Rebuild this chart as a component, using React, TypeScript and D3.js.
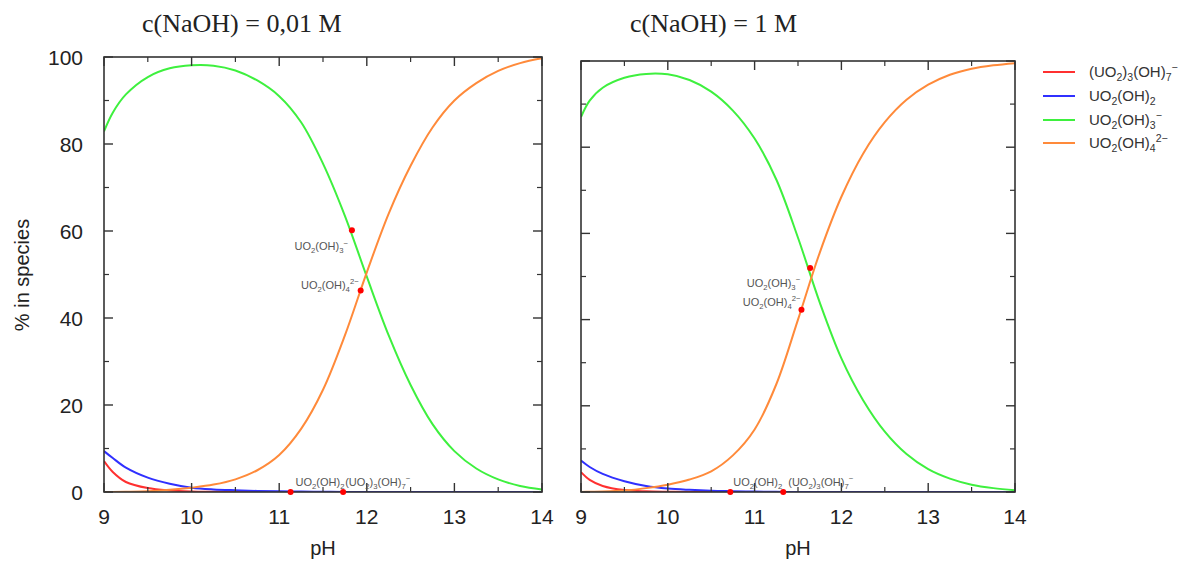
import React from "react";
import * as d3 from "d3";

// ---------- data ----------
const PH = [9, 9.1, 9.25, 9.5, 9.75, 10, 10.25, 10.5, 10.75, 11, 11.25, 11.5, 11.75, 12, 12.25, 12.5, 12.75, 13, 13.25, 13.5, 13.75, 14];

// c(NaOH) = 0,01 M
const left_U3OH7 = [7.1, 4.6, 2.3, 0.9, 0.35, 0.12, 0.05, 0, 0, 0, 0, 0, 0, 0, 0, 0, 0, 0, 0, 0, 0, 0];
const left_UOH2 = [9.4, 7.8, 5.6, 3.3, 1.9, 1.0, 0.6, 0.4, 0.25, 0.15, 0.1, 0.05, 0, 0, 0, 0, 0, 0, 0, 0, 0, 0];
const left_UOH3 = [82.9, 87.2, 91.4, 95.4, 97.4, 98.1, 98.0, 96.9, 94.6, 91.0, 85.0, 75.5, 63.5, 49.5, 36.0, 24.6, 15.6, 9.4, 5.4, 2.9, 1.4, 0.6];
const left_UOH4 = [0, 0.02, 0.05, 0.15, 0.5, 1.0, 1.7, 2.9, 5.0, 8.5, 14.5, 23.5, 36.0, 50.5, 64.0, 75.0, 83.8, 90.0, 94.0, 96.8, 98.6, 99.7];

// c(NaOH) = 1 M
const right_U3OH7 = [4.6, 2.8, 1.4, 0.45, 0.15, 0.05, 0, 0, 0, 0, 0, 0, 0, 0, 0, 0, 0, 0, 0, 0, 0, 0];
const right_UOH2 = [7.3, 5.8, 4.2, 2.5, 1.4, 0.8, 0.5, 0.3, 0.2, 0.1, 0.05, 0, 0, 0, 0, 0, 0, 0, 0, 0, 0, 0];
const right_UOH3 = [87.0, 90.8, 93.8, 96.1, 97.0, 96.9, 95.6, 92.9, 88.5, 82.0, 72.5, 59.0, 44.0, 31.0, 21.3, 14.0, 8.8, 5.3, 3.1, 1.7, 0.9, 0.4];
const right_UOH4 = [0, 0.05, 0.1, 0.35, 0.9, 1.7, 2.9, 4.8, 8.5, 14.5, 25.0, 40.0, 55.5, 68.5, 78.5, 85.8, 91.0, 94.5, 96.8, 98.2, 99.0, 99.5];

// marked points [pH, %]
const left_marks_UOH3 = [11.83, 60.2];
const left_marks_UOH4 = [11.93, 46.3];
const left_marks_UOH2 = [11.13, 0];
const left_marks_U3OH7 = [11.73, 0];
const right_marks_UOH3 = [11.64, 52.0];
const right_marks_UOH4 = [11.54, 42.3];
const right_marks_UOH2 = [10.72, 0];
const right_marks_U3OH7 = [11.33, 0];

const titles = ["c(NaOH) = 0,01 M", "c(NaOH) = 1 M"];
const xTicks = [9, 10, 11, 12, 13, 14];
const xMinor = [9.5, 10.5, 11.5, 12.5, 13.5];
const yTicks = [0, 20, 40, 60, 80, 100];
const yMinor = [10, 30, 50, 70, 90];

type Part = [string, "n" | "sub" | "sup"];
const F_U3OH7: Part[] = [["(UO", "n"], ["2", "sub"], [")", "n"], ["3", "sub"], ["(OH)", "n"], ["7", "sub"], ["\u2212", "sup"]];
const F_UOH2: Part[] = [["UO", "n"], ["2", "sub"], ["(OH)", "n"], ["2", "sub"]];
const F_UOH3: Part[] = [["UO", "n"], ["2", "sub"], ["(OH)", "n"], ["3", "sub"], ["\u2212", "sup"]];
const F_UOH4: Part[] = [["UO", "n"], ["2", "sub"], ["(OH)", "n"], ["4", "sub"], ["2\u2212", "sup"]];

const COLORS = { u3: "#ff3030", u2: "#3030ff", u3m: "#3ef03e", u4: "#ff8a3a" };

const species = [
  { key: "u3", formula: F_U3OH7, color: COLORS.u3 },
  { key: "u2", formula: F_UOH2, color: COLORS.u2 },
  { key: "u3m", formula: F_UOH3, color: COLORS.u3m },
  { key: "u4", formula: F_UOH4, color: COLORS.u4 },
];

const panels = [
  {
    title: titles[0],
    titleX: 142,
    box: { x0: 104, x1: 542, y0: 57, y1: 492 },
    series: { u3: left_U3OH7, u2: left_UOH2, u3m: left_UOH3, u4: left_UOH4 },
    midLabels: [
      { pt: left_marks_UOH3, f: F_UOH3, dx: -4, dy: 20 },
      { pt: left_marks_UOH4, f: F_UOH4, dx: -2, dy: -2 },
    ],
    lowLabels: [
      { pt: left_marks_UOH2, f: F_UOH2, dx: 5 },
      { pt: left_marks_U3OH7, f: F_U3OH7, dx: 2 },
    ],
    showY: true,
  },
  {
    title: titles[1],
    titleX: 630,
    box: { x0: 581, x1: 1015, y0: 61, y1: 492 },
    series: { u3: right_U3OH7, u2: right_UOH2, u3m: right_UOH3, u4: right_UOH4 },
    midLabels: [
      { pt: right_marks_UOH3, f: F_UOH3, dx: -10, dy: 19 },
      { pt: right_marks_UOH4, f: F_UOH4, dx: -1, dy: -4 },
    ],
    lowLabels: [
      { pt: right_marks_UOH2, f: F_UOH2, dx: 3 },
      { pt: right_marks_U3OH7, f: F_U3OH7, dx: 5 },
    ],
    showY: false,
  },
];

function Formula({ parts, x, y, fs, anchor = "start", fill = "#333" }: any) {
  let cur = 0;
  return (
    <text x={x} y={y} fontSize={fs} textAnchor={anchor} fill={fill} fontFamily="'Liberation Sans', Arial, sans-serif">
      {parts.map((p: Part, i: number) => {
        const target = p[1] === "sub" ? 0.28 * fs : p[1] === "sup" ? -0.42 * fs : 0;
        const dy = target - cur;
        cur = target;
        return (
          <tspan key={i} dy={dy} fontSize={p[1] === "n" ? fs : fs * 0.7}>
            {p[0]}
          </tspan>
        );
      })}
    </text>
  );
}

const AXIS = "#333";
const SANS = "'Liberation Sans', Arial, sans-serif";

function Panel({ p }: any) {
  const { x0, x1, y0, y1 } = p.box;
  const x = d3.scaleLinear().domain([9, 14]).range([x0, x1]);
  const y = d3.scaleLinear().domain([0, 100]).range([y1, y0]);
  const line = d3
    .line<[number, number]>()
    .x((d) => x(d[0]))
    .y((d) => y(d[1]))
    .curve(d3.curveCatmullRom.alpha(0.5));
  const maj = 9;
  const min = 5;
  const cx = (x0 + x1) / 2;
  return (
    <g>
      <text x={p.titleX} y={32} fontSize={26} textAnchor="start" fontFamily="'Liberation Serif', 'Times New Roman', serif" fill="#222">
        {p.title}
      </text>
      <defs>
        <clipPath id={"clip" + x0}>
          <rect x={x0} y={y0 - 2} width={x1 - x0} height={y1 - y0 + 2} />
        </clipPath>
      </defs>
      {/* curves */}
      <g clipPath={`url(#clip${x0})`}>
        {species.map((s) => (
          <path
            key={s.key}
            d={line(PH.map((h, i) => [h, p.series[s.key][i]]) as [number, number][]) || ""}
            fill="none"
            stroke={s.color}
            strokeWidth={2}
          />
        ))}
      </g>
      {/* frame */}
      <rect x={x0} y={y0} width={x1 - x0} height={y1 - y0} fill="none" stroke={AXIS} strokeWidth={1.6} />
      {/* ticks */}
      {xTicks.map((t) => (
        <g key={"xt" + t}>
          <line x1={x(t)} x2={x(t)} y1={y1} y2={y1 - maj} stroke={AXIS} strokeWidth={1.4} />
          <line x1={x(t)} x2={x(t)} y1={y0} y2={y0 + maj} stroke={AXIS} strokeWidth={1.4} />
          <text x={x(t)} y={y1 + 32} fontSize={21} textAnchor="middle" fontFamily={SANS} fill="#222">
            {t}
          </text>
        </g>
      ))}
      {xMinor.map((t) => (
        <g key={"xm" + t}>
          <line x1={x(t)} x2={x(t)} y1={y1} y2={y1 - min} stroke={AXIS} strokeWidth={1.2} />
          <line x1={x(t)} x2={x(t)} y1={y0} y2={y0 + min} stroke={AXIS} strokeWidth={1.2} />
        </g>
      ))}
      {yTicks.map((t) => (
        <g key={"yt" + t}>
          <line x1={x0} x2={x0 + maj} y1={y(t)} y2={y(t)} stroke={AXIS} strokeWidth={1.4} />
          <line x1={x1} x2={x1 - maj} y1={y(t)} y2={y(t)} stroke={AXIS} strokeWidth={1.4} />
          {p.showY && (
            <text x={x0 - 21} y={y(t) + 7.5} fontSize={21} textAnchor="end" fontFamily={SANS} fill="#222">
              {t}
            </text>
          )}
        </g>
      ))}
      {yMinor.map((t) => (
        <g key={"ym" + t}>
          <line x1={x0} x2={x0 + min} y1={y(t)} y2={y(t)} stroke={AXIS} strokeWidth={1.2} />
          <line x1={x1} x2={x1 - min} y1={y(t)} y2={y(t)} stroke={AXIS} strokeWidth={1.2} />
        </g>
      ))}
      <text x={cx} y={y1 + 63} fontSize={20} textAnchor="middle" fontFamily={SANS} fill="#222">
        pH
      </text>
      {/* annotations */}
      {p.midLabels.map((l: any, i: number) => (
        <g key={"ml" + i}>
          <Formula parts={l.f} x={x(l.pt[0]) + l.dx} y={y(l.pt[1]) + l.dy} fs={11} anchor="end" fill="#555" />
        </g>
      ))}
      {p.lowLabels.map((l: any, i: number) => (
        <g key={"ll" + i}>
          <Formula parts={l.f} x={x(l.pt[0]) + l.dx} y={y(l.pt[1]) - 6} fs={11} anchor="start" fill="#555" />
        </g>
      ))}
      {[...p.midLabels, ...p.lowLabels].map((l: any, i: number) => (
        <circle key={"dot" + i} cx={x(l.pt[0])} cy={y(l.pt[1])} r={3} fill="#ff0000" />
      ))}
    </g>
  );
}

export default function App() {
  const legendY = [72, 96, 120, 143];
  return (
    <svg width={1181} height={562} style={{ position: "absolute", left: 0, top: 0, background: "#fff" }}>
      <rect x={0} y={0} width={1181} height={562} fill="#fff" />
      {panels.map((p, i) => (
        <Panel key={i} p={p} />
      ))}
      <text
        transform={`translate(29,275) rotate(-90)`}
        fontSize={20}
        textAnchor="middle"
        fontFamily={SANS}
        fill="#222"
      >
        % in species
      </text>
      {species.map((s, i) => (
        <g key={"lg" + s.key}>
          <line x1={1043} x2={1075} y1={legendY[i]} y2={legendY[i]} stroke={s.color} strokeWidth={2} />
          <Formula parts={s.formula} x={1089} y={legendY[i] + 5} fs={15} fill="#333" />
        </g>
      ))}
    </svg>
  );
}
